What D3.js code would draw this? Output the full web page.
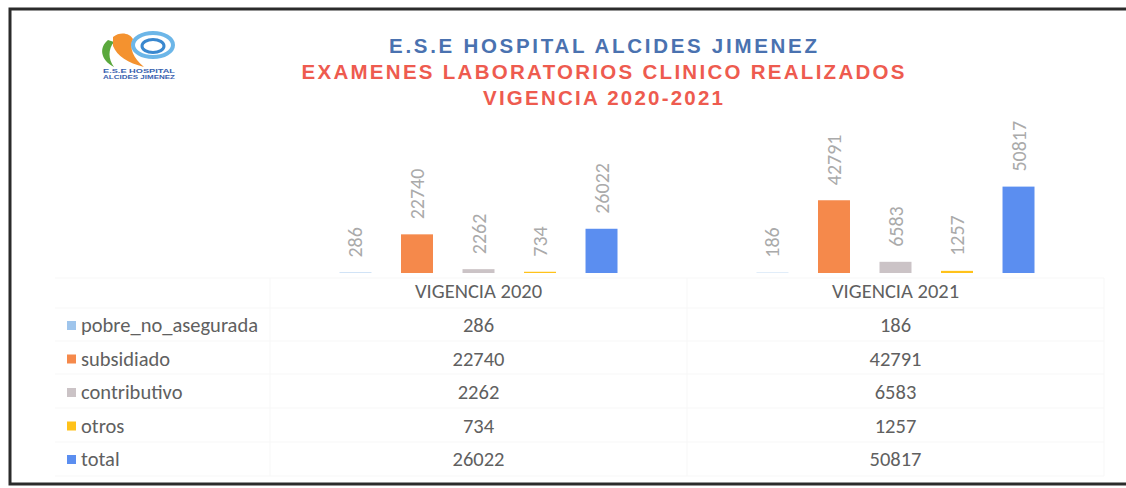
<!DOCTYPE html>
<html>
<head>
<meta charset="utf-8">
<script src="https://cdn.jsdelivr.net/npm/d3@7"></script>
<style>
  html, body { margin: 0; padding: 0; background: #ffffff; }
  svg { display: block; }
</style>
</head>
<body>
<div id="chart"></div>
<script>
// data
const titleLines = ["E.S.E HOSPITAL ALCIDES JIMENEZ", "EXAMENES LABORATORIOS CLINICO REALIZADOS", "VIGENCIA 2020-2021"];
const years = ["VIGENCIA 2020", "VIGENCIA 2021"];
const series = ["pobre_no_asegurada", "subsidiado", "contributivo", "otros", "total"];
const values2020 = [286, 22740, 2262, 734, 26022];
const values2021 = [186, 42791, 6583, 1257, 50817];
const seriesColors = ["#9fc5ec", "#f5894b", "#cbc3c6", "#ffc21a", "#5b8ef0"];

const width = 1126, height = 488;
const baseY = 273;
const textGrey = "#606060";
const labelGrey = "#aaaaaa";
const font = "Carlito, Calibri, Lato, sans-serif";

const rows = series.map((s, i) => ({ name: s, color: seriesColors[i], vals: [values2020[i], values2021[i]] }));

const $svg = d3.select("#chart")
    .append("svg")
    .attr("width", width)
    .attr("height", height);

//frame
$svg.append("path")
    .attr("d", `M${width},9 L10,9 L10,484 L${width},484`)
    .attr("fill", "none")
    .attr("stroke", "#2b2b2b")
    .attr("stroke-width", 3);

//logo (rough)
const logo = $svg.append("g").attr("transform", "translate(100,30)");
logo.append("path")
    .attr("d", "M8,10 C-1,17 0,30 14,37 C8,29 8,19 14,12 Z")
    .attr("fill", "#5aa83c");
logo.append("path")
    .attr("d", "M13,7 C20,1 30,3 33,9 C29,18 33,28 44,37 C28,33 17,26 13,16 Z")
    .attr("fill", "#f4922f");
logo.append("ellipse")
    .attr("cx", 53).attr("cy", 15).attr("rx", 20).attr("ry", 12)
    .attr("fill", "none").attr("stroke", "#6cb6e8").attr("stroke-width", 4);
logo.append("ellipse")
    .attr("cx", 53).attr("cy", 16).attr("rx", 11).attr("ry", 6.5)
    .attr("fill", "none").attr("stroke", "#3a88cf").attr("stroke-width", 3);
logo.append("text")
    .attr("x", 39).attr("y", 43)
    .attr("text-anchor", "middle")
    .attr("font-family", "'Liberation Sans', Arial, sans-serif")
    .attr("font-weight", "bold").attr("font-size", 5)
    .attr("fill", "#3a62b0")
    .attr("textLength", 72).attr("lengthAdjust", "spacingAndGlyphs")
    .text("E.S.E HOSPITAL");
logo.append("text")
    .attr("x", 39).attr("y", 49)
    .attr("text-anchor", "middle")
    .attr("font-family", "'Liberation Sans', Arial, sans-serif")
    .attr("font-weight", "bold").attr("font-size", 5)
    .attr("fill", "#3a62b0")
    .attr("textLength", 72).attr("lengthAdjust", "spacingAndGlyphs")
    .text("ALCIDES JIMENEZ");

//titles
const titleCfg = [
    { y: 53, len: 428, fill: "#4a72b0" },
    { y: 79, len: 603, fill: "#ee5b4f" },
    { y: 105, len: 240, fill: "#ee5b4f" }
];
titleLines.forEach((t, i) => {
    $svg.append("text")
        .attr("x", 603)
        .attr("y", titleCfg[i].y)
        .attr("text-anchor", "middle")
        .attr("font-family", "'Liberation Sans', Arial, sans-serif")
        .attr("font-weight", "bold")
        .attr("font-size", 20.5)
        .attr("fill", titleCfg[i].fill)
        .attr("textLength", titleCfg[i].len)
        .attr("lengthAdjust", "spacing")
        .text(t);
});

//scales
const x0 = d3.scaleBand().domain(years).range([270, 1104]);
const x1 = d3.scaleBand().domain(series).range([0, x0.bandwidth()])
    .paddingInner(0.48).paddingOuter(1.13);
const y = d3.scaleLinear().domain([0, 60000]).range([baseY, 171]);

//faint table grid
const gridColor = "#f7f7f7";
[270, 687, 1104].forEach(gx => {
    $svg.append("line")
        .attr("x1", gx).attr("x2", gx).attr("y1", 278).attr("y2", 476)
        .attr("stroke", gridColor);
});
[278, 308, 341, 374, 408, 442, 476].forEach(gy => {
    $svg.append("line")
        .attr("x1", 55).attr("x2", 1104).attr("y1", gy).attr("y2", gy)
        .attr("stroke", gridColor);
});

//bars
const groups = $svg.selectAll("g.year")
    .data(years)
    .join("g")
    .attr("class", "year")
    .attr("transform", d => `translate(${x0(d)},0)`);

groups.selectAll("rect")
    .data((d, yi) => rows.map(r => ({ name: r.name, color: r.color, value: r.vals[yi] })))
    .join("rect")
    .attr("x", d => x1(d.name))
    .attr("width", x1.bandwidth())
    .attr("y", d => y(d.value))
    .attr("height", d => baseY - y(d.value))
    .attr("fill", d => d.color);

groups.selectAll("text.val")
    .data((d, yi) => rows.map(r => ({ name: r.name, value: r.vals[yi] })))
    .join("text")
    .attr("class", "val")
    .attr("transform", d => `translate(${x1(d.name) + x1.bandwidth() / 2},${y(d.value) - 15}) rotate(-90)`)
    .attr("text-anchor", "start")
    .attr("dominant-baseline", "central")
    .attr("font-family", font)
    .attr("font-size", 20)
    .attr("fill", labelGrey)
    .text(d => d.value);

//category labels
$svg.selectAll("text.cat")
    .data(years)
    .join("text")
    .attr("class", "cat")
    .attr("x", d => x0(d) + x0.bandwidth() / 2)
    .attr("y", 291)
    .attr("text-anchor", "middle")
    .attr("dominant-baseline", "central")
    .attr("font-family", font)
    .attr("font-size", 20.5)
    .attr("fill", textGrey)
    .text(d => d);

//data table
const rowY = d3.scalePoint().domain(series).range([325, 459]);

const tRows = $svg.selectAll("g.trow")
    .data(rows)
    .join("g")
    .attr("class", "trow")
    .attr("transform", d => `translate(0,${rowY(d.name)})`);

tRows.append("rect")
    .attr("x", 67).attr("y", -4)
    .attr("width", 9).attr("height", 9)
    .attr("fill", d => d.color);

tRows.append("text")
    .attr("x", 81)
    .attr("dominant-baseline", "central")
    .attr("font-family", font)
    .attr("font-size", 20.5)
    .attr("fill", textGrey)
    .text(d => d.name);

tRows.selectAll("text.cell")
    .data(d => d.vals)
    .join("text")
    .attr("class", "cell")
    .attr("x", (d, i) => x0(years[i]) + x0.bandwidth() / 2)
    .attr("text-anchor", "middle")
    .attr("dominant-baseline", "central")
    .attr("font-family", font)
    .attr("font-size", 20.5)
    .attr("fill", textGrey)
    .text(d => d);
</script>
</body>
</html>
